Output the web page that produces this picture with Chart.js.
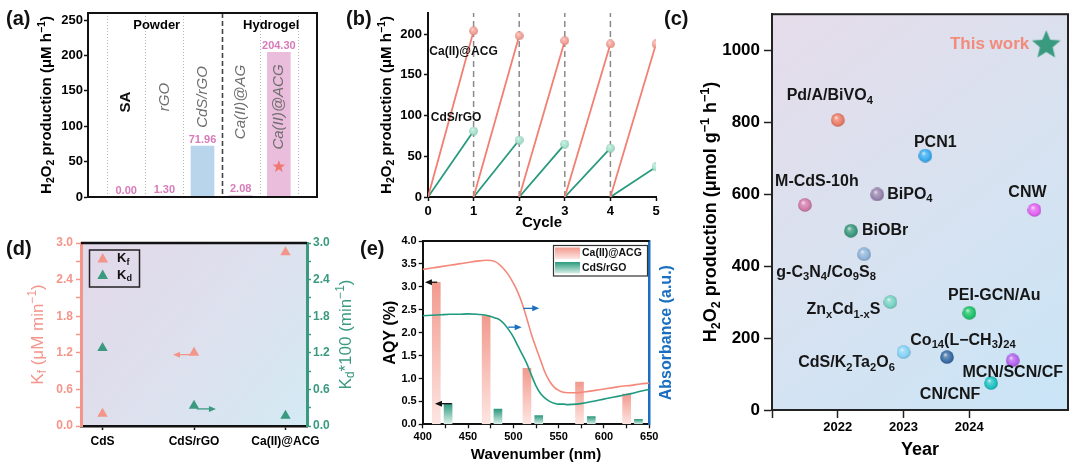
<!DOCTYPE html>
<html><head><meta charset="utf-8">
<script src="https://cdn.jsdelivr.net/npm/chart.js@4/dist/chart.umd.min.js"></script>
<style>
body{margin:0;width:1080px;height:470px;background:#fff;position:relative;overflow:hidden;font-family:"Liberation Sans",Arial,sans-serif;}
canvas{position:absolute;}
.pl{position:absolute;font-weight:bold;font-size:20px;line-height:20px;color:#111;white-space:nowrap;}
</style></head><body>
<canvas id="ca" style="left:0;top:0;width:330px;height:225px" width="330" height="225"></canvas>
<canvas id="cb" style="left:330px;top:0;width:350px;height:235px" width="350" height="235"></canvas>
<canvas id="cc" style="left:700px;top:0;width:380px;height:470px" width="380" height="470"></canvas>
<canvas id="cd" style="left:0;top:225px;width:380px;height:245px" width="380" height="245"></canvas>
<canvas id="ce" style="left:380px;top:225px;width:320px;height:245px" width="320" height="245"></canvas>
<div class="pl" style="left:6px;top:8px">(a)</div>
<div class="pl" style="left:346px;top:8px">(b)</div>
<div class="pl" style="left:664px;top:8px">(c)</div>
<div class="pl" style="left:6px;top:238px">(d)</div>
<div class="pl" style="left:360px;top:238px">(e)</div>
<script>
// ================= DATA =================
// (a)
const aCategories = ['SA', 'rGO', 'CdS/rGO', 'Ca(II)@AG', 'Ca(II)@ACG'];
const aValues = [0.00, 1.30, 71.96, 2.08, 204.30];
const aGroups = ['Powder', 'Hydrogel'];
const aGroupOf = [0, 0, 0, 1, 1];
// (b)
const bSeries = ['Ca(II)@ACG', 'CdS/rGO'];
const bCaPeaks = [204, 198, 192, 188, 188];
const bCdsPeaks = [81, 70, 65, 60, 37];
// (c)
const cNames = ['Pd/A/BiVO_4', 'PCN1', 'M-CdS-10h', 'BiPO_4', 'CNW', 'BiOBr', 'g-C_3N_4/Co_9S_8',
  'Zn_xCd_{1-x}S', 'PEI-GCN/Au', 'CdS/K_2Ta_2O_6', 'Co_{14}(L\u2212CH_3)_{24}', 'MCN/SCN/CF', 'CN/CNF', 'This work'];
const cYears = [2022.0, 2023.33, 2021.5, 2022.6, 2024.99, 2022.2, 2022.4, 2022.8, 2024.0, 2023.0, 2023.66, 2024.66, 2024.33, 2025.17];
const cRates = [806, 707, 570, 599, 556, 498, 433, 300, 270, 161, 147, 138, 75, 1018];
// (d)
const dCategories = ['CdS', 'CdS/rGO', 'Ca(II)@ACG'];
const dKf = [0.20, 1.20, 2.85];
const dKd = [1.28, 0.33, 0.17];
// (e)
const eSeries = ['Ca(II)@ACG', 'CdS/rGO'];
const eWavelengths = [421.5, 476.5, 521.5, 579.5, 631.5];
const eAqyCa = [3.10, 2.37, 1.22, 0.92, 0.66];
const eAqyCds = [0.45, 0.33, 0.19, 0.17, 0.11];
const eAbsWl = [400,410,420,430,440,450,460,470,480,485,490,495,500,505,510,515,520,525,530,535,540,545,550,555,560,570,580,590,600,610,620,630,640,650];
const eAbsCa = [3.38,3.41,3.44,3.47,3.50,3.53,3.56,3.58,3.55,3.48,3.38,3.25,3.08,2.88,2.62,2.30,1.96,1.67,1.40,1.13,0.94,0.81,0.74,0.70,0.69,0.69,0.71,0.74,0.77,0.80,0.83,0.85,0.88,0.90];
const eAbsCds = [2.37,2.38,2.39,2.40,2.40,2.41,2.40,2.38,2.32,2.28,2.19,2.06,1.91,1.71,1.52,1.32,1.07,0.84,0.67,0.57,0.50,0.46,0.44,0.44,0.43,0.44,0.47,0.51,0.55,0.59,0.63,0.67,0.72,0.76];

// ================= STYLE =================
const FONT = '"Liberation Sans", Arial, sans-serif';
Chart.defaults.font.family = FONT;
Chart.defaults.color = '#000';
Chart.defaults.animation = false;
const SALMON = '#f27f72', TEAL = '#2a9a7e';

function hexRgb(h){h=h.replace('#','');return [0,2,4].map(i=>parseInt(h.substr(i,2),16));}
function mix(c1,c2,t){const a=hexRgb(c1),b=hexRgb(c2);return 'rgb('+a.map((v,i)=>Math.round(v+(b[i]-v)*t)).join(',')+')';}
function sphere(color,d){
  const c=document.createElement('canvas');c.width=d;c.height=d;
  const g=c.getContext('2d');const r=d/2;
  const gr=g.createRadialGradient(r*0.72,r*0.62,0,r,r,r);
  gr.addColorStop(0,mix(color,'#ffffff',0.85));
  gr.addColorStop(0.3,mix(color,'#ffffff',0.25));
  gr.addColorStop(0.75,color);
  gr.addColorStop(1,mix(color,'#000000',0.22));
  g.fillStyle=gr;g.beginPath();g.arc(r,r,r-0.2,0,Math.PI*2);g.fill();
  return c;
}
function starPath(g,cx,cy,R,inner){
  g.beginPath();
  for(let k=0;k<10;k++){const rr=k%2?R*inner:R;const a=-Math.PI/2+k*Math.PI/5;g.lineTo(cx+rr*Math.cos(a),cy+rr*Math.sin(a));}
  g.closePath();
}
function starImg(color,R){
  const d=Math.ceil(2*R+2);const c=document.createElement('canvas');c.width=d;c.height=d;
  const g=c.getContext('2d');g.fillStyle=color;starPath(g,d/2,d/2+R*0.1,R,0.45);g.fill();return c;
}
function parseRich(s){
  const out=[];let i=0,buf='';
  while(i<s.length){
    const ch=s[i];
    if(ch==='_'||ch==='^'){
      if(buf){out.push({t:buf,m:0});buf='';}
      const m=ch==='_'?1:2;i++;let t='';
      if(s[i]==='{'){const j=s.indexOf('}',i);t=s.slice(i+1,j);i=j+1;}else{t=s[i];i++;}
      out.push({t,m});
    }else{buf+=ch;i++;}
  }
  if(buf)out.push({t:buf,m:0});
  return out;
}
function drawRich(ctx,s,x,y,o){
  const size=o.size||14,weight=o.weight||'bold',color=o.color||'#000',align=o.align||'center';
  const f=sz=>(o.italic?'italic ':'')+weight+' '+sz+'px '+FONT;
  ctx.save();ctx.translate(x,y);if(o.rotate)ctx.rotate(o.rotate);
  const segs=parseRich(s);let w=0;
  segs.forEach(sg=>{ctx.font=f(sg.m?size*0.7:size);sg.w=ctx.measureText(sg.t).width;w+=sg.w;});
  let cx=align==='center'?-w/2:align==='right'?-w:0;
  ctx.textBaseline='middle';ctx.textAlign='left';ctx.fillStyle=color;
  segs.forEach(sg=>{ctx.font=f(sg.m?size*0.7:size);const dy=sg.m===1?size*0.3:sg.m===2?-size*0.33:0;ctx.fillText(sg.t,cx,dy);cx+=sg.w;});
  ctx.restore();
}
function arrow(ctx,x1,y,x2,color,lw){
  const dir=Math.sign(x2-x1);ctx.save();ctx.strokeStyle=color;ctx.fillStyle=color;ctx.lineWidth=lw||1.3;
  ctx.beginPath();ctx.moveTo(x1,y);ctx.lineTo(x2-dir*4,y);ctx.stroke();
  ctx.beginPath();ctx.moveTo(x2,y);ctx.lineTo(x2-dir*7,y-3);ctx.lineTo(x2-dir*7,y+3);ctx.closePath();ctx.fill();ctx.restore();
}
function frame(ctx,a,color,w){ctx.save();ctx.strokeStyle=color;ctx.lineWidth=w;ctx.strokeRect(a.left,a.top,a.right-a.left,a.bottom-a.top);ctx.restore();}
const noEvents={responsive:false,animation:false,events:[]};
const noPlug={legend:{display:false},tooltip:{enabled:false}};

// ================= (a) =================
const aBarColors=['#b9d5ec','#b9d5ec','#b9d5ec','#e9bddb','#e9bddb'];
const aLabelY=[102,97,97,102,107];
const aGroupLabelX=[1.8,4.8];
const aPlugin={id:'aDeco',
  beforeDatasetsDraw(chart){
    const {ctx,chartArea:a,scales:{x}}=chart;
    for(let i=0;i<=aCategories.length;i++){
      const px=Math.round(x.getPixelForValue(i+0.5))+0.5;
      const split=i>0&&i<aCategories.length&&aGroupOf[i-1]!==aGroupOf[i];
      ctx.save();ctx.beginPath();
      if(split){ctx.strokeStyle='#444';ctx.lineWidth=1.6;ctx.setLineDash([5,3]);}
      else{ctx.strokeStyle='#b5b5b5';ctx.lineWidth=1;ctx.setLineDash([1,2]);}
      ctx.moveTo(px,a.top);ctx.lineTo(px,a.bottom);ctx.stroke();ctx.restore();
    }
  },
  afterDatasetsDraw(chart){
    const {ctx,scales:{x,y}}=chart;
    aGroups.forEach((g,i)=>drawRich(ctx,g,x.getPixelForValue(aGroupLabelX[i]),25,{size:13}));
    aCategories.forEach((c,i)=>{
      const px=x.getPixelForValue(i+1);
      if(i===0)drawRich(ctx,c,px,aLabelY[i],{size:15,color:'#111',rotate:-Math.PI/2});
      else drawRich(ctx,c,px,aLabelY[i],{size:15,weight:'normal',italic:true,color:'#6f6f6f',rotate:-Math.PI/2});
      ctx.save();ctx.font='bold 11px '+FONT;ctx.fillStyle='#d77bb9';ctx.textAlign='center';ctx.textBaseline='bottom';
      ctx.fillText(aValues[i].toFixed(2),px,y.getPixelForValue(aValues[i])-1);ctx.restore();
    });
    const hi=aValues.indexOf(Math.max(...aValues));
    ctx.save();ctx.fillStyle='#f07670';starPath(ctx,x.getPixelForValue(hi+1),y.getPixelForValue(aValues[hi]*0.21),6.5,0.42);ctx.fill();ctx.restore();
  },
  afterDraw(chart){
    const {ctx,chartArea:a}=chart;frame(ctx,a,'#111',2);
    drawRich(ctx,'H_2O_2 production (\u03bcM h^{\u22121})',47,(a.top+a.bottom)/2,{size:15,rotate:-Math.PI/2});
  }
};
new Chart(document.getElementById('ca'),{
  type:'bar',
  data:{datasets:[{data:aValues.map((v,i)=>({x:i+1,y:v})),backgroundColor:aBarColors,barThickness:23,borderWidth:0}]},
  options:{...noEvents,layout:{padding:{top:13,right:13,left:0,bottom:0}},plugins:noPlug,
    scales:{
      x:{type:'linear',offset:false,min:0,max:6,ticks:{display:false},grid:{display:false},border:{display:false},afterFit:s=>{s.height=28;}},
      y:{min:0,max:260,ticks:{stepSize:50,includeBounds:false,font:{size:13,weight:'bold'},padding:1},
        grid:{drawOnChartArea:false,tickLength:4,tickColor:'#111',tickWidth:1.5},border:{color:'#111',width:2},afterFit:s=>{s.width=88;}}
    }},
  plugins:[aPlugin]
});

// ================= (b) =================
function sawtooth(peaks){
  const pts=[];
  peaks.forEach((p,i)=>{pts.push({x:i,y:0});pts.push({x:i+1,y:p,peak:true});if(i<peaks.length-1)pts.push({x:i+1,y:null});});
  return pts;
}
const bLabelAt=[[0.03,178],[0.06,97]];
const bPlugin={id:'bDeco',
  beforeDatasetsDraw(chart){
    const {ctx,chartArea:a,scales:{x}}=chart;
    ctx.save();ctx.strokeStyle='#8a8a8a';ctx.lineWidth=1.5;ctx.setLineDash([6,4]);
    for(let c=1;c<bCaPeaks.length;c++){const px=x.getPixelForValue(c);ctx.beginPath();ctx.moveTo(px,a.bottom);ctx.lineTo(px,a.top);ctx.stroke();}
    ctx.restore();
  },
  afterDraw(chart){
    const {ctx,chartArea:a,scales:{x,y}}=chart;
    bSeries.forEach((s,i)=>drawRich(ctx,s,x.getPixelForValue(bLabelAt[i][0]),y.getPixelForValue(bLabelAt[i][1]),{size:12,align:'left',color:'#111'}));
    drawRich(ctx,'H_2O_2 production (\u03bcM h^{\u22121})',57,(a.top+a.bottom)/2,{size:15,rotate:-Math.PI/2});
    drawRich(ctx,'Cycle',(a.left+a.right)/2,223,{size:15});
  }
};
const bSphereCa=sphere('#f59d93',9),bSphereCd=sphere('#a3e2cb',9);
new Chart(document.getElementById('cb'),{
  type:'line',
  data:{datasets:[
    {data:sawtooth(bCaPeaks),borderColor:SALMON,borderWidth:1.8,spanGaps:false,pointStyle:bSphereCa,pointRadius:c=>c.raw&&c.raw.peak?5:0},
    {data:sawtooth(bCdsPeaks),borderColor:TEAL,borderWidth:1.8,spanGaps:false,pointStyle:bSphereCd,pointRadius:c=>c.raw&&c.raw.peak?5:0}
  ]},
  options:{...noEvents,layout:{padding:{top:13,right:24,left:0,bottom:0}},plugins:noPlug,
    scales:{
      x:{type:'linear',min:0,max:5,ticks:{stepSize:1,font:{size:13,weight:'bold'},padding:3,maxRotation:0},
        grid:{drawOnChartArea:false,tickLength:4,tickColor:'#111',tickWidth:1.5},border:{color:'#111',width:2},afterFit:s=>{s.height=38;}},
      y:{min:0,max:226,ticks:{stepSize:50,includeBounds:false,font:{size:13,weight:'bold'},padding:2},
        grid:{drawOnChartArea:false,tickLength:4,tickColor:'#111',tickWidth:1.5},border:{color:'#111',width:2},afterFit:s=>{s.width=98;}}
    }},
  plugins:[bPlugin]
});

// ================= (c) =================
const cColors=['#ec7d68','#3aacf2','#d27cac','#9884ae','#e264f2','#3b9a7f','#8fb4da','#79d3c4','#1ec46a','#86d3f6','#3a6ea6','#b563f0','#1fc2c4','#3a9a80'];
const cLabelOff=[[-8,-24,'center'],[10,-13,'center'],[12,-23,'center'],[10,0,'left'],[-7,-17,'center'],[11,0,'left'],[-38,18,'center'],
  [-10,8,'right'],[25,-17,'center'],[-57,11,'center'],[16,-17,'center'],[0,12,'center'],[-41,12,'center'],[-17,1,'right']];
const cStyles=cColors.map((c,i)=>i===cColors.length-1?starImg(c,15):sphere(c,14));
const cPlugin={id:'cDeco',
  beforeDraw(chart){
    const {ctx,chartArea:a}=chart;
    const g=ctx.createLinearGradient(a.left,a.top,a.right,a.bottom);
    g.addColorStop(0,'#e6dcea');g.addColorStop(0.5,'#d8e2f0');g.addColorStop(1,'#c9e5f7');
    ctx.save();ctx.fillStyle=g;ctx.fillRect(a.left,a.top,a.right-a.left,a.bottom-a.top);ctx.restore();
  },
  afterDatasetsDraw(chart){
    const {ctx}=chart;const meta=chart.getDatasetMeta(0);
    cNames.forEach((n,i)=>{const p=meta.data[i];const o=cLabelOff[i];const last=i===cNames.length-1;
      drawRich(ctx,n,p.x+o[0],p.y+o[1],{size:last?17:16,align:o[2],color:last?'#f28b7b':'#161616'});});
  },
  afterDraw(chart){
    const {ctx,chartArea:a}=chart;frame(ctx,a,'#222',2);
    drawRich(ctx,'H_2O_2 production (\u03bcmol g^{\u22121} h^{\u22121})',11,212,{size:18,rotate:-Math.PI/2});
    drawRich(ctx,'Year',220,450,{size:18});
  }
};
new Chart(document.getElementById('cc'),{
  type:'scatter',
  data:{datasets:[{data:cYears.map((yr,i)=>({x:yr,y:cRates[i]})),pointStyle:cStyles,pointRadius:7}]},
  options:{...noEvents,layout:{padding:{top:12,right:12,left:0,bottom:0}},plugins:noPlug,
    scales:{
      x:{type:'linear',min:2021,max:2025.5,ticks:{stepSize:1,includeBounds:false,font:{size:13,weight:'bold'},padding:2,maxRotation:0,callback:v=>(v>=2022&&v<=2024)?String(v):''},
        grid:{drawOnChartArea:false,tickLength:8,tickWidth:1.5,tickColor:c=>c.tick&&c.tick.value>2024?'rgba(0,0,0,0)':'#222'},border:{color:'#222',width:2},afterFit:s=>{s.height=60;}},
      y:{min:0,max:1100,ticks:{stepSize:200,includeBounds:false,font:{size:17,weight:'bold'},padding:4,callback:v=>String(v)},
        grid:{drawOnChartArea:false,tickLength:8,tickWidth:1.5,tickColor:'#222'},border:{color:'#222',width:2},afterFit:s=>{s.width=72;}}
    }},
  plugins:[cPlugin]
});

// ================= (d) =================
const KF_COL='#f4958a',KD_COL='#3a9a80';
const dPlugin={id:'dDeco',
  beforeDraw(chart){
    const {ctx,chartArea:a}=chart;
    const g=ctx.createLinearGradient(a.left,a.top,a.right,a.bottom);
    g.addColorStop(0,'#e2d8e9');g.addColorStop(0.55,'#dde1ee');g.addColorStop(1,'#d3eaf4');
    ctx.save();ctx.fillStyle=g;ctx.fillRect(a.left,a.top,a.right-a.left,a.bottom-a.top);ctx.restore();
  },
  afterDraw(chart){
    const {ctx,chartArea:a,scales}=chart;
    ctx.save();ctx.strokeStyle='#111';ctx.lineWidth=2.5;ctx.beginPath();ctx.moveTo(a.left,a.top);ctx.lineTo(a.right,a.top);ctx.stroke();ctx.restore();
    ctx.save();ctx.strokeStyle='#222';ctx.lineWidth=1.5;ctx.strokeRect(89.5,25,50,37);
    [[KF_COL,'K_f',33.5],[KD_COL,'K_d',50]].forEach(([col,t,yy])=>{
      ctx.fillStyle=col;ctx.beginPath();ctx.moveTo(102.7,yy-5.5);ctx.lineTo(108,yy+4);ctx.lineTo(97.4,yy+4);ctx.closePath();ctx.fill();
      drawRich(ctx,t,117,yy,{size:13,align:'left',color:'#111'});
    });ctx.restore();
    const xs=scales.x,yf=scales.yKf,yd=scales.yKd;
    arrow(ctx,xs.getPixelForValue(0.99),yf.getPixelForValue(1.17),xs.getPixelForValue(0.77),KF_COL,1.3);
    arrow(ctx,xs.getPixelForValue(1.03),yd.getPixelForValue(0.28),xs.getPixelForValue(1.24),KD_COL,1.3);
    drawRich(ctx,'K_f (\u03bcM min^{\u22121})',38,(a.top+a.bottom)/2,{size:17,weight:'normal',color:KF_COL,rotate:-Math.PI/2});
    drawRich(ctx,'K_d*100 (min^{\u22121})',346,(a.top+a.bottom)/2,{size:17,weight:'normal',color:KD_COL,rotate:-Math.PI/2});
  }
};
const dTick=v=>{const t=Math.round(v*10);return t%6===0?(t/10).toFixed(1):'';};
new Chart(document.getElementById('cd'),{
  type:'scatter',
  data:{datasets:[
    {data:dKf.map((v,i)=>({x:i,y:v})),yAxisID:'yKf',pointStyle:'triangle',pointRadius:6,backgroundColor:KF_COL,borderColor:KF_COL,borderWidth:0},
    {data:dKd.map((v,i)=>({x:i,y:v})),yAxisID:'yKd',pointStyle:'triangle',pointRadius:6,backgroundColor:KD_COL,borderColor:KD_COL,borderWidth:0}
  ]},
  options:{...noEvents,layout:{padding:{top:18,right:0,left:0,bottom:0}},plugins:noPlug,
    scales:{
      x:{type:'linear',min:-0.235,max:2.235,afterBuildTicks:s=>{s.ticks=dCategories.map((_,i)=>({value:i}));},
        ticks:{font:{size:12,weight:'bold'},padding:4,maxRotation:0,callback:v=>dCategories[v]},
        grid:{drawOnChartArea:false,tickLength:4,tickColor:'#111',tickWidth:1.5},border:{color:'#111',width:2.5},afterFit:s=>{s.height=44;}},
      yKf:{position:'left',min:0,max:3,ticks:{stepSize:0.3,includeBounds:false,color:KF_COL,font:{size:12,weight:'bold'},padding:3,callback:dTick},
        grid:{drawOnChartArea:false,tickLength:5,tickColor:KF_COL,tickWidth:1.5},border:{color:KF_COL,width:3},afterFit:s=>{s.width=81;}},
      yKd:{position:'right',min:0,max:3,ticks:{stepSize:0.3,includeBounds:false,color:KD_COL,font:{size:12,weight:'bold'},padding:2,callback:dTick},
        grid:{drawOnChartArea:false,tickLength:4,tickColor:KD_COL,tickWidth:1.5},border:{color:KD_COL,width:3},afterFit:s=>{s.width=73;}}
    }},
  plugins:[dPlugin]
});

// ================= (e) =================
const E_OFF=6.5;
const ABS_COL='#1a6fc0';
function barGrad(top,bottom){
  return c=>{const ch=c.chart;if(!ch.chartArea||!c.raw)return top;const ys=ch.scales.y;
    const yt=ys.getPixelForValue(c.raw.y),yb=ys.getPixelForValue(0);if(!isFinite(yt)||Math.abs(yb-yt)<1)return top;
    const g=ch.ctx.createLinearGradient(0,yt,0,yb);g.addColorStop(0,top);g.addColorStop(1,bottom);return g;};
}
const eArrows=[[416,402.5,3.10,'#111'],[432,413.5,0.45,'#111'],[511,528.6,2.53,ABS_COL],[494.4,509.2,2.12,ABS_COL]];
const ePlugin={id:'eDeco',
  afterDraw(chart){
    const {ctx,chartArea:a,scales:{x,y}}=chart;
    ctx.save();ctx.strokeStyle='#111';ctx.lineWidth=2;ctx.beginPath();ctx.moveTo(a.left,a.top);ctx.lineTo(a.right,a.top);ctx.stroke();ctx.restore();
    eArrows.forEach(r=>arrow(ctx,x.getPixelForValue(r[0]),y.getPixelForValue(r[2]),x.getPixelForValue(r[1]),r[3],1.3));
    ctx.save();ctx.fillStyle='rgba(255,255,255,0.92)';ctx.fillRect(173.5,20.5,94,30.5);
    ctx.strokeStyle='#333';ctx.lineWidth=1.2;ctx.strokeRect(173.5,20.5,94,30.5);
    [['#f29a8e','#fde6e2',22.5,eSeries[0]],[TEAL,'#d8efe7',37,eSeries[1]]].forEach(([t,b,yy,name])=>{
      const g=ctx.createLinearGradient(0,yy,0,yy+11.5);g.addColorStop(0,t);g.addColorStop(1,b);
      ctx.fillStyle=g;ctx.fillRect(175,yy,25,11.5);
      drawRich(ctx,name,202,yy+6,{size:10.5,align:'left',color:'#111'});
    });ctx.restore();
    drawRich(ctx,'AQY (%)',11,(a.top+a.bottom)/2,{size:16,rotate:-Math.PI/2});
    drawRich(ctx,'Absorbance (a.u.)',287,(a.top+a.bottom)/2,{size:16,color:ABS_COL,rotate:-Math.PI/2});
    drawRich(ctx,'Wavenumber (nm)',(a.left+a.right)/2,230,{size:15});
  }
};
new Chart(document.getElementById('ce'),{
  type:'bar',
  data:{datasets:[
    {type:'line',order:0,data:eAbsWl.map((w,i)=>({x:w,y:eAbsCa[i]})),yAxisID:'yAbs',borderColor:'#f4887a',borderWidth:1.6,pointRadius:0,cubicInterpolationMode:'monotone'},
    {type:'line',order:0,data:eAbsWl.map((w,i)=>({x:w,y:eAbsCds[i]})),yAxisID:'yAbs',borderColor:'#1f9a7d',borderWidth:1.6,pointRadius:0,cubicInterpolationMode:'monotone'},
    {order:1,data:eWavelengths.map((w,i)=>({x:w-E_OFF,y:eAqyCa[i]})),yAxisID:'y',backgroundColor:barGrad('#f29a8e','#fde6e2'),grouped:false,maxBarThickness:8,barPercentage:1,categoryPercentage:1},
    {order:1,data:eWavelengths.map((w,i)=>({x:w+E_OFF,y:eAqyCds[i]})),yAxisID:'y',backgroundColor:barGrad('#2f9a7e','#e0f2ec'),grouped:false,maxBarThickness:8,barPercentage:1,categoryPercentage:1}
  ]},
  options:{...noEvents,layout:{padding:{top:16,right:0,left:0,bottom:0}},plugins:noPlug,
    scales:{
      x:{type:'linear',offset:false,min:400,max:650,ticks:{stepSize:25,autoSkip:false,maxRotation:0,minRotation:0,font:{size:11,weight:'bold'},padding:2,callback:v=>v%50===0?String(v):''},
        grid:{drawOnChartArea:false,offset:false,tickLength:4,tickColor:'#111',tickWidth:1.3},border:{color:'#111',width:2},afterFit:s=>{s.height=45.7;}},
      y:{position:'left',min:0,max:4,ticks:{stepSize:0.25,font:{size:11,weight:'bold'},padding:2,callback:v=>{const t=Math.round(v*100);return t%50===0?(t/100).toFixed(1):'';}},
        grid:{drawOnChartArea:false,tickLength:4,tickColor:'#111',tickWidth:1.3},border:{color:'#111',width:2},afterFit:s=>{s.width=42.7;}},
      yAbs:{position:'right',min:0,max:4,ticks:{display:false},grid:{drawOnChartArea:false,drawTicks:false},border:{color:ABS_COL,width:2.5},afterFit:s=>{s.width=50.7;}}
    }},
  plugins:[ePlugin]
});
</script>
</body></html>
